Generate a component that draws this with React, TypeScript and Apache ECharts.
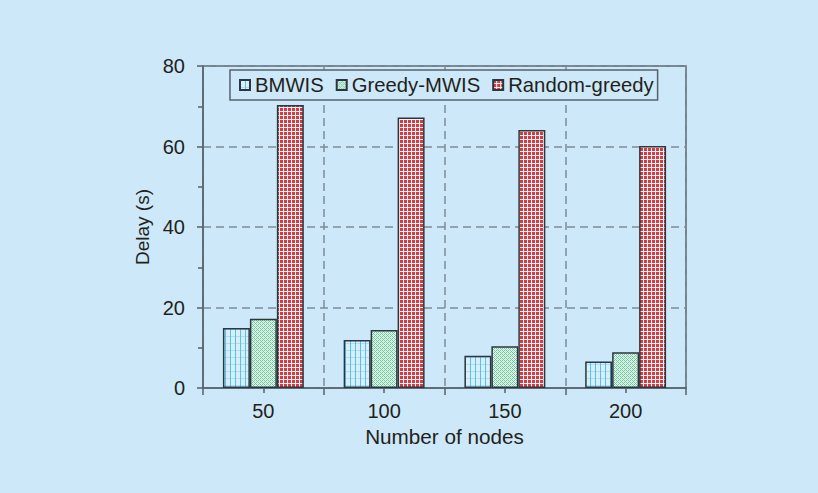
import React, { useEffect, useRef } from "react";
import * as echarts from "echarts";

const categories = ["50", "100", "150", "200"];
const seriesNames = ["BMWIS", "Greedy-MWIS", "Random-greedy"];
const bmwis = [14.9, 11.9, 8.0, 6.6];
const greedyMwis = [17.2, 14.4, 10.4, 8.9];
const randomGreedy = [70.3, 67.2, 64.1, 60.1];
const yTicks = [0, 20, 40, 60, 80];

function makePattern(kind: string): any {
  const c = document.createElement("canvas");
  const ctx = c.getContext("2d")!;
  if (kind === "blue") {
    c.width = 5;
    c.height = 7;
    ctx.fillStyle = "#d8eff9";
    ctx.fillRect(0, 0, 5, 7);
    ctx.fillStyle = "#aedcf1";
    ctx.fillRect(0, 0, 5, 1);
    ctx.fillStyle = "#55c1f0";
    ctx.fillRect(0, 0, 1, 7);
  } else if (kind === "green") {
    c.width = 4;
    c.height = 4;
    ctx.fillStyle = "#e6f6ee";
    ctx.fillRect(0, 0, 4, 4);
    ctx.fillStyle = "#6cc79b";
    ctx.fillRect(0, 0, 1, 1);
    ctx.fillRect(1, 1, 1, 1);
    ctx.fillRect(2, 2, 1, 1);
    ctx.fillRect(3, 3, 1, 1);
    ctx.fillRect(2, 0, 1, 1);
    ctx.fillRect(0, 2, 1, 1);
    ctx.fillStyle = "#bce6d1";
    ctx.fillRect(3, 1, 1, 1);
    ctx.fillRect(1, 3, 1, 1);
  } else {
    c.width = 4;
    c.height = 4;
    ctx.fillStyle = "#f0f4f7";
    ctx.fillRect(0, 0, 4, 4);
    ctx.fillStyle = "#d83a42";
    ctx.fillRect(0, 0, 3, 3);
  }
  return { image: c, repeat: "repeat" };
}

export default function App() {
  const ref = useRef<HTMLDivElement>(null);
  useEffect(() => {
    if (!ref.current) return;
    const chart = echarts.init(ref.current, null, { renderer: "svg" });
    const font = "'Liberation Sans', Arial, sans-serif";
    const axisColor = "#56636d";
    const dashColor = "#7e8c96";
    const textColor = "#231f20";
    const patterns = [makePattern("blue"), makePattern("green"), makePattern("red")];
    const data = [bmwis, greedyMwis, randomGreedy];
    chart.setOption({
      animation: false,
      backgroundColor: "#cde8f8",
      textStyle: { fontFamily: font },
      grid: {
        left: 203,
        top: 66,
        right: 132,
        bottom: 105,
        show: true,
        borderColor: axisColor,
        borderWidth: 1.5,
        backgroundColor: "transparent",
      },
      legend: {
        left: 230,
        top: 70,
        itemWidth: 10,
        itemHeight: 10,
        itemGap: 12,
        padding: [5, 4, 5, 9],
        borderColor: "#56636d",
        borderWidth: 1.5,
        backgroundColor: "#cde8f8",
        textStyle: { fontSize: 20.3, color: textColor, fontFamily: font, padding: [0, 0, 0, 0] },
        data: seriesNames.map((n) => ({ name: n, icon: "rect" })),
      },
      xAxis: [
        {
          type: "category",
          data: categories,
          position: "bottom",
          name: "Number of nodes",
          nameLocation: "middle",
          nameGap: 34,
          nameTextStyle: { fontSize: 20.7, color: textColor, fontFamily: font },
          axisLine: { lineStyle: { color: axisColor, width: 1.5 } },
          axisTick: { show: true, length: 7, lineStyle: { color: axisColor, width: 1.5 } },
          axisLabel: { fontSize: 20, color: textColor, margin: 13, fontFamily: font },
          splitLine: { show: true, lineStyle: { color: dashColor, type: [8, 5], width: 1.5 } },
        },
        {
          type: "category",
          data: categories,
          position: "bottom",
          axisLine: { show: false },
          axisLabel: { show: false },
          splitLine: { show: false },
          axisTick: { show: true, alignWithLabel: true, length: 5, lineStyle: { color: axisColor, width: 1.5 } },
        },
      ],
      yAxis: {
        type: "value",
        min: 0,
        max: 80,
        interval: 20,
        name: "Delay (s)",
        nameLocation: "middle",
        nameGap: 42,
        nameTextStyle: {
          fontSize: 19,
          color: textColor,
          fontFamily: font,
        },
        axisLine: { show: true, lineStyle: { color: axisColor, width: 1.5 } },
        axisTick: { show: true, length: 6, lineStyle: { color: axisColor, width: 1.5 } },
        minorTick: { show: true, splitNumber: 2, length: 5, lineStyle: { color: axisColor, width: 1.5 } },
        axisLabel: {
          fontSize: 20,
          color: textColor,
          margin: 18,
          fontFamily: font,
          formatter: (v: number) => (yTicks.includes(v) ? String(v) : ""),
        },
        splitLine: { show: true, lineStyle: { color: dashColor, type: [8, 5], width: 1.5 } },
      },
      series: seriesNames.map((name, i) => ({
        name,
        type: "bar",
        xAxisIndex: 0,
        data: data[i],
        barGap: "0%",
        barCategoryGap: "33%",
        itemStyle: {
          color: patterns[i],
          borderColor: "#2b363e",
          borderWidth: 1.5,
        },
      })),
    });
    return () => chart.dispose();
  }, []);
  return (
    <div
      ref={ref}
      style={{ position: "fixed", left: 0, top: 0, width: 818, height: 493 }}
    />
  );
}
